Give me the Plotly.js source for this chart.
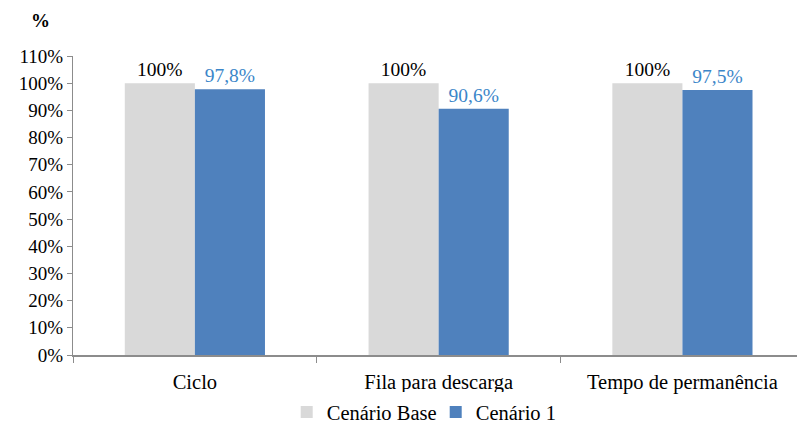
<!DOCTYPE html>
<html>
<head>
<meta charset="utf-8">
<script src="https://cdn.plot.ly/plotly-3.0.1.min.js"></script>
<style>html,body{margin:0;padding:0;background:#fff;}#chart{width:798px;height:425px;}</style>
</head>
<body>
<div id="chart"></div>
<script>
var categories = ["Ciclo", "Fila para descarga", "Tempo de permanência"];
var baseValues = [100, 100, 100];
var baseLabels = ["100%", "100%", "100%"];
var cen1Values = [97.8, 90.6, 97.5];
var cen1Labels = ["97,8%", "90,6%", "97,5%"];
var yTickVals = [0, 10, 20, 30, 40, 50, 60, 70, 80, 90, 100, 110];
var yTickText = ["0%", "10%", "20%", "30%", "40%", "50%", "60%", "70%", "80%", "90%", "100%", "110%"];

var fontFam = "Liberation Serif";
var traces = [
  {type: "bar", name: "Cenário Base", x: categories, y: baseValues, text: baseLabels,
   textposition: "outside", cliponaxis: false,
   textfont: {family: fontFam, size: 19.5, color: "#000000"},
   marker: {color: "#d9d9d9"}, hoverinfo: "none"},
  {type: "bar", name: "Cenário 1", x: categories, y: cen1Values, text: cen1Labels,
   textposition: "outside", cliponaxis: false,
   textfont: {family: fontFam, size: 19.5, color: "#3b86c9"},
   marker: {color: "#4f81bd"}, hoverinfo: "none"}
];
var layout = {
  width: 798, height: 425,
  margin: {l: 73, r: 1, t: 56, b: 70},
  paper_bgcolor: "#ffffff", plot_bgcolor: "#ffffff",
  font: {family: fontFam, size: 19, color: "#000000"},
  barmode: "group", bargap: 0.425, bargroupgap: 0,
  showlegend: true,
  legend: {orientation: "h", x: 0.546, xanchor: "center", xref: "container",
           y: 0.03, yanchor: "middle", yref: "container",
           entrywidth: 104, entrywidthmode: "pixels",
           font: {family: fontFam, size: 20.5, color: "#000"}, itemwidth: 30, traceorder: "normal"},
  xaxis: {range: [-0.5, 2.47], showgrid: false, zeroline: false,
          showline: true, linecolor: "#8c8c8c", linewidth: 2,
          ticks: "outside", tickson: "boundaries", ticklen: 6, tickcolor: "#8c8c8c", tickwidth: 1,
          ticklabelstandoff: 7,
          tickfont: {family: fontFam, size: 20.5, color: "#000"}},
  yaxis: {range: [0, 110], tickvals: yTickVals, ticktext: yTickText,
          showgrid: false, zeroline: false, showline: true, linecolor: "#8c8c8c", linewidth: 1,
          ticks: "outside", ticklen: 5, tickcolor: "#8c8c8c",
          tickfont: {family: fontFam, size: 19, color: "#000"}},
  annotations: [{text: "<b>%</b>", xref: "paper", yref: "paper", x: -0.045, y: 1.12,
                 xanchor: "center", yanchor: "middle", showarrow: false,
                 font: {family: fontFam, size: 19, color: "#000"}}]
};
Plotly.newPlot("chart", traces, layout, {displayModeBar: false, staticPlot: true});
</script>
</body>
</html>
